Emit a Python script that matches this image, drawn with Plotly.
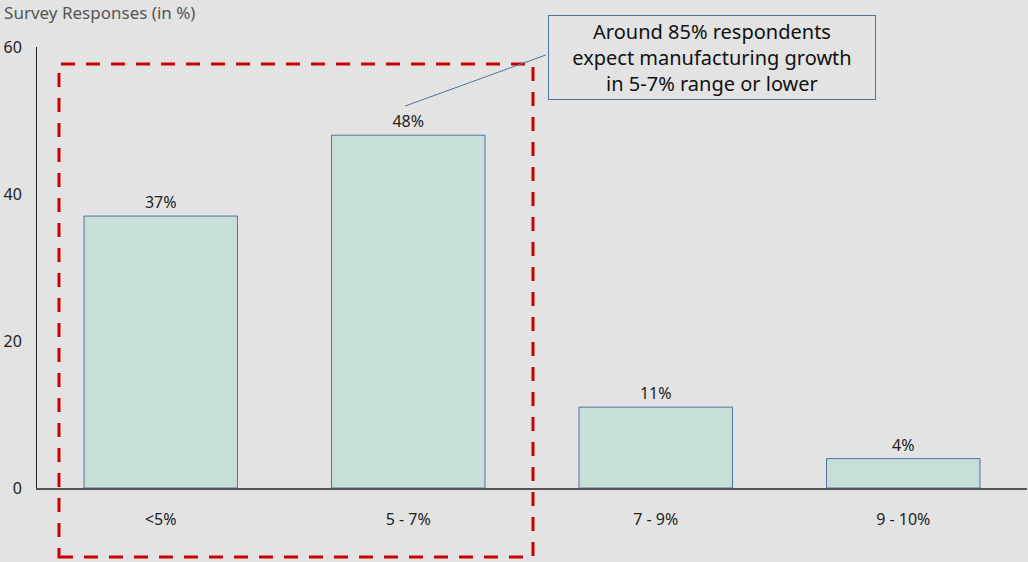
import plotly.graph_objects as go

categories = ["<5%", "5 - 7%", "7 - 9%", "9 - 10%"]
values = [37, 48, 11, 4]
y_ticks = [0, 20, 40, 60]

BG = "#e3e3e3"
FONT = "Noto Sans"

fig = go.Figure()
fig.add_trace(go.Bar(
    x=categories, y=values,
    width=0.62,
    marker=dict(color="#c8dfd8", line=dict(color="#4f74a0", width=1)),
    texttemplate="%{y}%", textposition="outside",
    textfont=dict(size=16, color="#222222", family=FONT),
    cliponaxis=False,
))

fig.update_layout(
    width=1028, height=562,
    paper_bgcolor=BG, plot_bgcolor=BG,
    margin=dict(l=37, r=1, t=47, b=74),
    showlegend=False,
    font=dict(family=FONT, size=16, color="#222222"),
    title=dict(text="Survey Responses (in %)", xref="container", yref="container",
               x=0.004, y=0.977, xanchor="left", yanchor="middle",
               font=dict(size=17, color="#555555", family=FONT)),
    xaxis=dict(showline=True, linecolor="#555555", linewidth=1.5, ticks="",
               showgrid=False, ticklabelstandoff=16, range=[-0.5, 3.5],
               tickfont=dict(size=16, color="#222222")),
    yaxis=dict(range=[0, 60], tickvals=y_ticks, showline=True, linecolor="#222222",
               linewidth=1, showgrid=False, zeroline=False, ticks="",
               ticklabelstandoff=11, tickfont=dict(size=16, color="#222222")),
)

# red dashed highlight box
fig.add_shape(type="rect", xref="paper", yref="paper",
              x0=0.0222, x1=0.501, y0=-0.1565, y1=0.9615,
              line=dict(color="#cc0000", width=3, dash="14px,11px"),
              fillcolor="rgba(0,0,0,0)", layer="above")

# leader line
fig.add_shape(type="line", xref="paper", yref="paper",
              x0=0.3717, y0=0.866, x1=0.514, y1=0.982,
              line=dict(color="#4f74a0", width=1))

fig.add_annotation(xref="paper", yref="paper", x=0.6815, y=0.977,
                   xanchor="center", yanchor="middle",
                   text="Around 85% respondents<br>expect manufacturing growth<br>in 5-7% range or lower",
                   showarrow=False, align="center", width=322,
                   bordercolor="#4f74a0", borderwidth=1, borderpad=2, bgcolor=BG,
                   font=dict(size=20, color="#111111", family=FONT))

fig.write_html("out.html", config={"displayModeBar": False},
               post_script="document.body.style.margin='0';document.body.style.overflow='hidden';")
